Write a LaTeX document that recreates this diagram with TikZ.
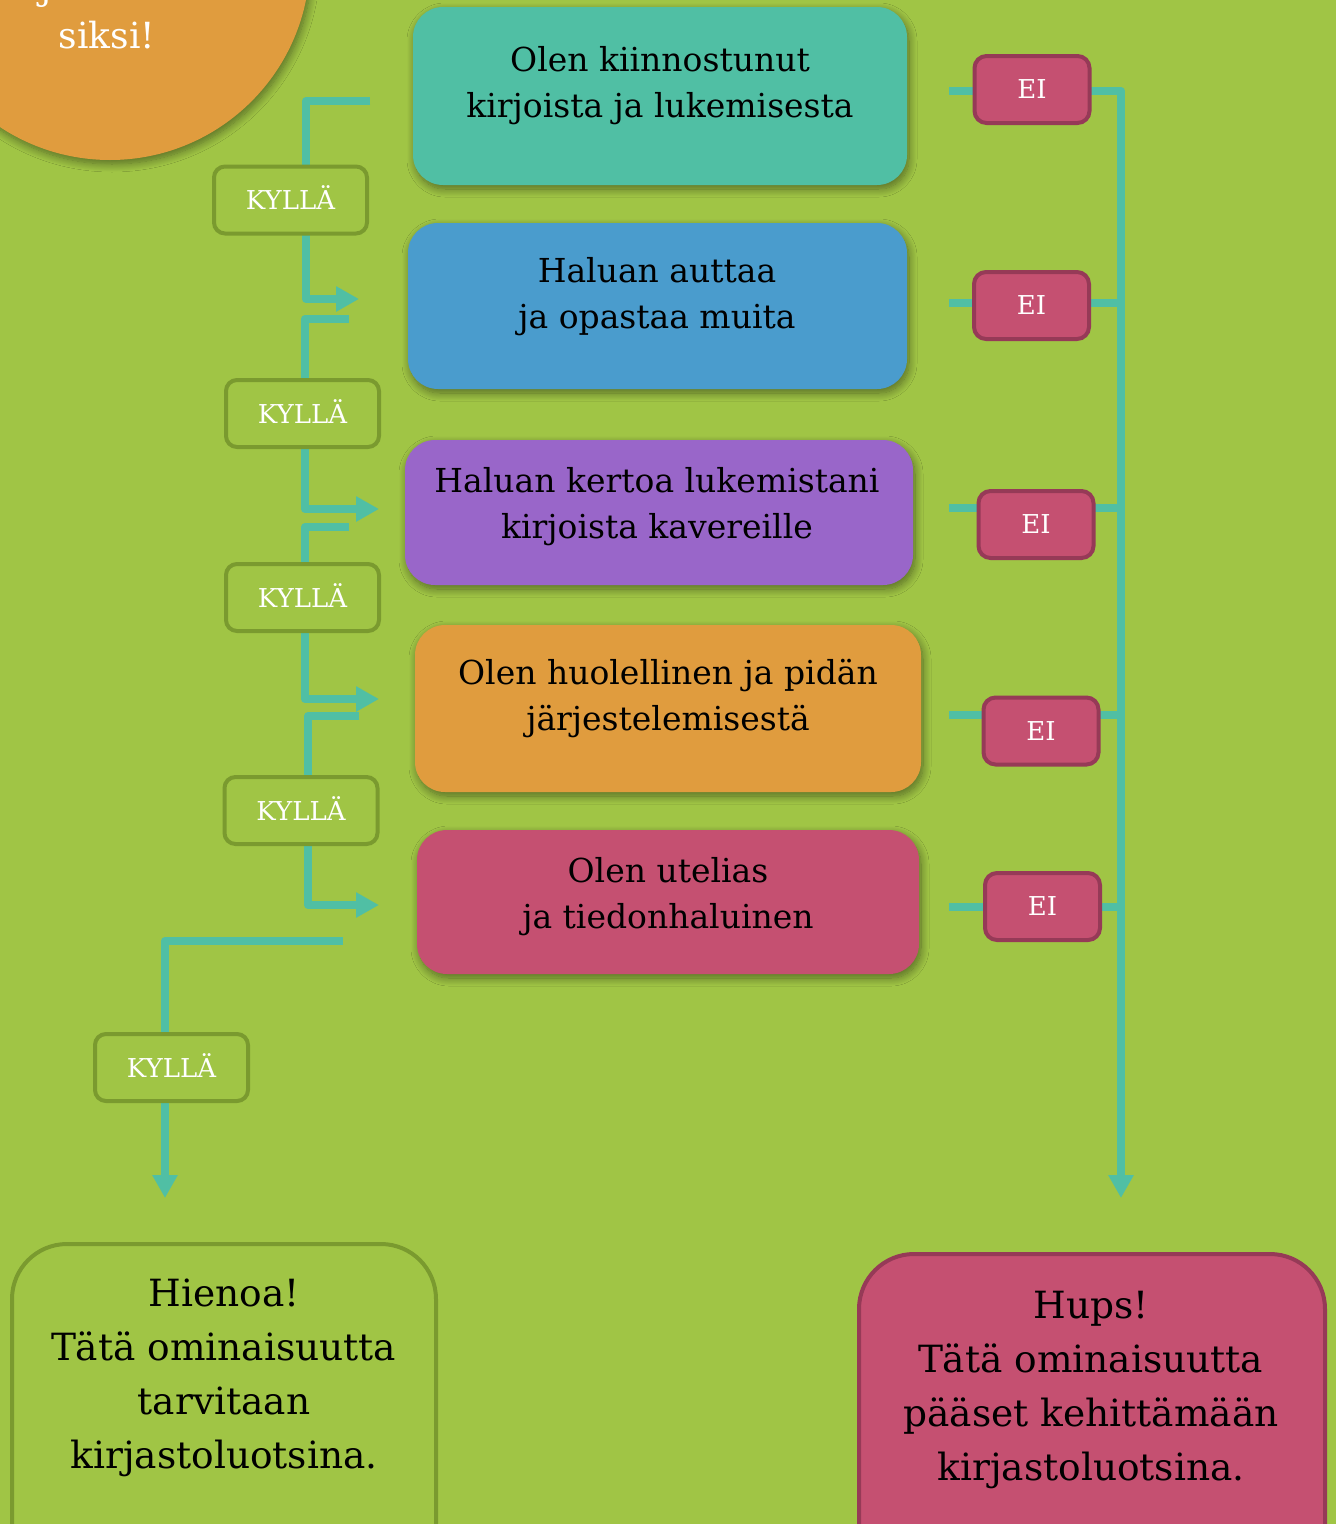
\documentclass[tikz,border=0pt]{standalone}
\usepackage{fontspec}
\setmainfont{DejaVu Serif}
\usetikzlibrary{arrows.meta,shadows.blur}
\definecolor{bg}{HTML}{A0C545}
\definecolor{cteal}{HTML}{50BFA4}
\definecolor{cblue}{HTML}{4A9CCD}
\definecolor{cpurple}{HTML}{9966C9}
\definecolor{corange}{HTML}{E09C3E}
\definecolor{cpink}{HTML}{C55071}
\definecolor{cpinkdark}{HTML}{963A57}
\definecolor{cgreendark}{HTML}{7A9A2F}
\begin{document}
\begin{tikzpicture}[x=1pt,y=-1pt,
  shad/.style={blur shadow={shadow xshift=2pt, shadow yshift=-4pt, shadow blur radius=8pt, shadow opacity=45, shadow blur steps=12}},
  mainbox/.style={shad, rounded corners=30pt, inner sep=0pt},
  boxtext/.style={align=center, inner sep=0pt, text=black, font=\fontsize{33}{46}\selectfont},
  kylla/.style={draw=cgreendark, line width=4pt, fill=bg, rounded corners=11pt, minimum width=153pt, minimum height=67pt, inner sep=0pt, text=white, text height=19pt, text depth=0pt, font=\fontsize{26}{26}\selectfont},
  eibox/.style={draw=cpinkdark, line width=4pt, fill=cpink, rounded corners=12pt, minimum width=115pt, minimum height=67pt, inner sep=0pt, text=white, font=\fontsize{26}{26}\selectfont},
  endbox/.style={line width=4pt, rounded corners=55pt, inner sep=0pt},
  endtext/.style={align=center, inner sep=0pt, text=black, font=\fontsize{37.5}{54}\selectfont},
  conn/.style={draw=cteal, line width=8pt, line join=round},
  tip/.style={-{Triangle[length=23pt,width=24pt]}}
]
\fill[bg] (0,0) rectangle (1336,1524);
\useasboundingbox (0,0) rectangle (1336,1524);
\clip (0,0) rectangle (1336,1524);

% circle at top left
\node[circle, fill=corange, minimum size=400pt, inner sep=0pt, shad] (circ) at (110,-40) {};
\node[anchor=base west, text=white, inner sep=0pt, font=\fontsize{36}{36}\selectfont] (circj) at (40,-1) {j};
\node[anchor=base, text=white, inner sep=0pt, font=\fontsize{36}{36}\selectfont] (circt) at (107,48) {siksi!};

% coordinates for the connectors
\coordinate (a1s) at (370,101); \coordinate (a1b) at (306,101); \coordinate (a1c) at (306,299); \coordinate (a1e) at (359,299);
\coordinate (a2s) at (349,319); \coordinate (a2b) at (305,319); \coordinate (a2c) at (305,509); \coordinate (a2e) at (379,509);
\coordinate (a3s) at (349,527); \coordinate (a3b) at (305,527); \coordinate (a3c) at (305,699); \coordinate (a3e) at (379,699);
\coordinate (a4s) at (359,716); \coordinate (a4b) at (308,716); \coordinate (a4c) at (308,905); \coordinate (a4e) at (379,905);
\coordinate (a5s) at (343,941); \coordinate (a5b) at (165,941); \coordinate (a5e) at (165,1198);

\coordinate (r1s) at (949,91);  \coordinate (r1j) at (1121,91);
\coordinate (r2s) at (949,303); \coordinate (r2j) at (1121,303);
\coordinate (r3s) at (949,508); \coordinate (r3j) at (1121,508);
\coordinate (r4s) at (949,715); \coordinate (r4j) at (1121,715);
\coordinate (r5s) at (949,907); \coordinate (r5j) at (1121,907);
\coordinate (rend) at (1121,1198);

% connectors (drawn below the label boxes)
\draw[conn,tip] (a1s) -- (a1b) -- (a1c) -- (a1e);
\draw[conn,tip] (a2s) -- (a2b) -- (a2c) -- (a2e);
\draw[conn,tip] (a3s) -- (a3b) -- (a3c) -- (a3e);
\draw[conn,tip] (a4s) -- (a4b) -- (a4c) -- (a4e);
\draw[conn,tip] (a5s) -- (a5b) -- (a5e);

\draw[conn,tip] (r1s) -- (r1j) -- (rend);
\draw[conn] (r2s) -- (r2j);
\draw[conn] (r3s) -- (r3j);
\draw[conn] (r4s) -- (r4j);
\draw[conn] (r5s) -- (r5j);

% main question boxes
\node[mainbox, fill=cteal, minimum width=494pt, minimum height=178pt] (q1) at (660,96) {};
\node[boxtext] (q1t) at (660,86) {Olen kiinnostunut\\kirjoista ja lukemisesta};
\node[mainbox, fill=cblue, minimum width=499pt, minimum height=166pt] (q2) at (657.5,306) {};
\node[boxtext] (q2t) at (657,297) {Haluan auttaa\\ja opastaa muita};
\node[mainbox, fill=cpurple, minimum width=508pt, minimum height=145pt] (q3) at (659,512.5) {};
\node[boxtext] (q3t) at (657,507) {Haluan kertoa lukemistani\\kirjoista kavereille};
\node[mainbox, fill=corange, minimum width=506pt, minimum height=167pt] (q4) at (668,708.5) {};
\node[boxtext] (q4t) at (668,699) {Olen huolellinen ja pidän\\järjestelemisestä};
\node[mainbox, fill=cpink, minimum width=502pt, minimum height=144pt] (q5) at (668,902) {};
\node[boxtext] (q5t) at (668,897) {Olen utelias\\ja tiedonhaluinen};

% KYLLÄ boxes
\node[kylla] (k1) at (290.5,200) {KYLLÄ};
\node[kylla] (k2) at (302.5,413.5) {KYLLÄ};
\node[kylla] (k3) at (302.5,597.5) {KYLLÄ};
\node[kylla] (k4) at (301,810.5) {KYLLÄ};
\node[kylla] (k5) at (171.5,1067.5) {KYLLÄ};

% EI boxes
\node[eibox] (e1) at (1032,89.5) {EI};
\node[eibox] (e2) at (1031.5,305.5) {EI};
\node[eibox] (e3) at (1036,524.5) {EI};
\node[eibox] (e4) at (1041,731) {EI};
\node[eibox] (e5) at (1042.5,906.5) {EI};

% result boxes
\node[endbox, draw=cgreendark, fill=bg, minimum width=424pt, minimum height=336pt] (yes) at (224,1412) {};
\node[endtext] (yest) at (224,1378) {Hienoa!\\Tätä ominaisuutta\\tarvitaan\\kirjastoluotsina.};
\node[endbox, draw=cpinkdark, fill=cpink, minimum width=466pt, minimum height=326pt] (no) at (1092,1417) {};
\node[endtext] (not) at (1091,1390) {Hups!\\Tätä ominaisuutta\\pääset kehittämään\\kirjastoluotsina.};
\end{tikzpicture}
\end{document}
